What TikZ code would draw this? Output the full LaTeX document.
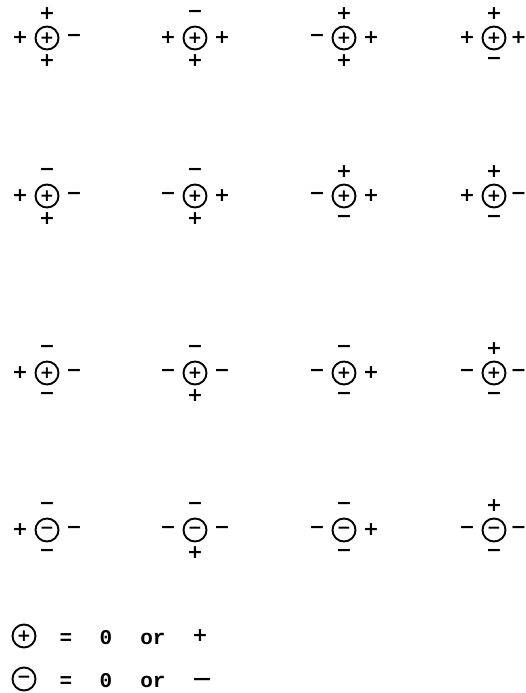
\documentclass[tikz,border=0pt]{standalone}
\usepackage{fontspec}
\setmainfont{Liberation Mono}
\newfontfamily\sgnfont{DejaVu Sans}
\begin{document}
\begin{tikzpicture}[x=1pt,y=-1pt,
  sgn/.style={inner sep=0pt,font=\sgnfont\fontsize{19}{22}\selectfont\bfseries},
  ring/.style={circle,draw,line width=1.9pt,minimum size=23pt,inner sep=0pt,font=\sgnfont\fontsize{17}{20}\selectfont\bfseries},
  lgd/.style={inner sep=0pt,anchor=base,font=\fontsize{21}{24}\selectfont\bfseries}]
\useasboundingbox (0,0) rectangle (525,693);
% #1 x, #2 y, #3 name, #4 inner, #5 top, #6 left, #7 right, #8 bottom, #9 right offset
\newcommand\chgcell[9]{%
  \node[ring] (#3) at (#1,#2) {#4};
  \node[sgn] (#3t) at (#1,#2-24) {#5};
  \node[sgn] (#3l) at (#1-27,#2) {#6};
  \node[sgn] (#3r) at (#1+#9,#2) {#7};
  \node[sgn] (#3b) at (#1,#2+23) {#8};
}
\def\p{+}
\def\m{−}
% row 1
\chgcell{47}{38}{a1}{\p}{\p}{\p}{\m}{\p}{27}
\chgcell{195}{38}{a2}{\p}{\m}{\p}{\p}{\p}{27}
\chgcell{344}{38}{a3}{\p}{\p}{\m}{\p}{\p}{27}
\chgcell{494}{38}{a4}{\p}{\p}{\p}{\p}{\m}{24.5}
% row 2
\chgcell{47}{196}{b1}{\p}{\m}{\p}{\m}{\p}{27}
\chgcell{195}{196}{b2}{\p}{\m}{\m}{\p}{\p}{27}
\chgcell{344}{196}{b3}{\p}{\p}{\m}{\p}{\m}{27}
\chgcell{494}{196}{b4}{\p}{\p}{\p}{\m}{\m}{24.5}
% row 3
\chgcell{47}{373}{c1}{\p}{\m}{\p}{\m}{\m}{27}
\chgcell{195}{373}{c2}{\p}{\m}{\m}{\m}{\p}{27}
\chgcell{344}{373}{c3}{\p}{\m}{\m}{\p}{\m}{27}
\chgcell{494}{373}{c4}{\p}{\p}{\m}{\m}{\m}{24.5}
% row 4
\chgcell{47}{530}{d1}{\m}{\m}{\p}{\m}{\m}{27}
\chgcell{195}{530}{d2}{\m}{\m}{\m}{\m}{\p}{27}
\chgcell{344}{530}{d3}{\m}{\m}{\m}{\p}{\m}{27}
\chgcell{494}{530}{d4}{\m}{\p}{\m}{\m}{\m}{24.5}
% legend
\node[ring] (lp) at (24,636) {\p};
\node[lgd] (lpeq) at (66,644) {=};
\node[lgd] (lpz) at (106,644) {0};
\node[lgd] (lpor) at (153,644) {or};
\node[sgn] (lps) at (200,636) {\p};
\node[ring] (lm) at (24,679) {\m};
\node[lgd] (lmeq) at (66,687) {=};
\node[lgd] (lmz) at (106,687) {0};
\node[lgd] (lmor) at (153,687) {or};
\node[sgn,font=\sgnfont\fontsize{18}{20}\selectfont\bfseries] (lms) at (202,681) {—};
\end{tikzpicture}
\end{document}
